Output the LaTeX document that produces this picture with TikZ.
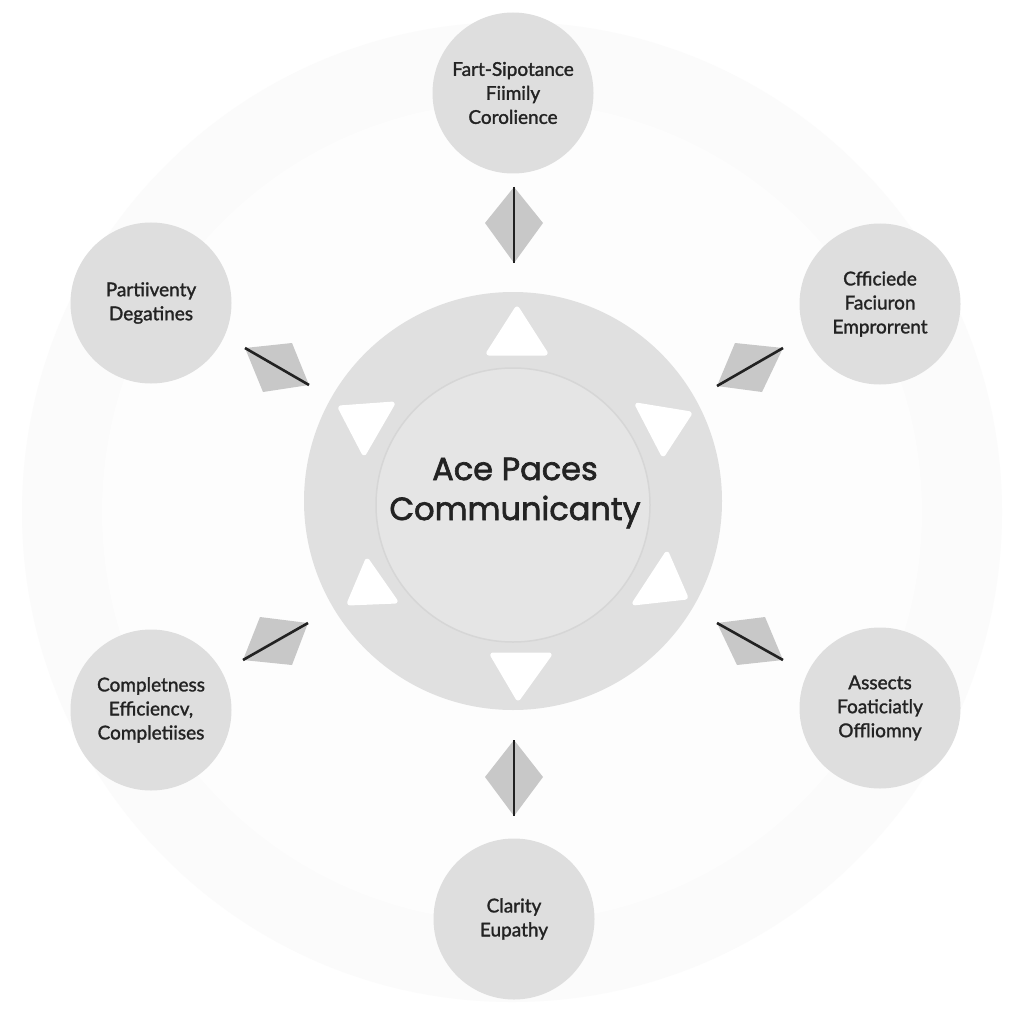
\documentclass[tikz,border=0pt]{standalone}
\usepackage{fontspec}
\setmainfont{Lato}
\newfontfamily\satfont{Lato}[FakeBold=1.5]
\newfontfamily\centerfont{Poppins}[FakeBold=2]
\definecolor{satfill}{RGB}{222,222,222}
\definecolor{outerfill}{RGB}{224,224,224}
\definecolor{innerfill}{RGB}{229,229,229}
\definecolor{innerring}{RGB}{214,214,214}
\definecolor{kitefill}{RGB}{200,200,200}
\definecolor{linecol}{RGB}{34,34,34}
\definecolor{textcol}{RGB}{35,35,35}
\begin{document}
\begin{tikzpicture}[x=1pt,y=-1pt,
  sat/.style={circle, fill=satfill, minimum size=161pt, inner sep=0pt,
    align=center, font=\satfont\fontsize{19}{24}\selectfont, text=textcol},
  kite/.style={fill=kitefill},
  kiteline/.style={draw=linecol, line width=2.6pt},
  notch/.style={fill=white, draw=white, line width=3pt, line join=round, rounded corners=2pt}]
\useasboundingbox (0,0) rectangle (1024,1024);
\fill[white] (0,0) rectangle (1024,1024);
% faint background rings
\fill[black!1.5] (512,512) circle (490pt);
\fill[black!0.6] (512,512) circle (410pt);

% central disc
\node[circle, fill=outerfill, minimum size=418pt, inner sep=0pt] (c) at (513,501) {};
\node[circle, fill=innerfill, draw=innerring, line width=1.5pt, minimum size=274pt, inner sep=0pt] (ci) at (513,505) {};
\node[align=center, text=textcol, font=\centerfont\fontsize{32}{40}\selectfont] (ct) at (515,493) {Ace Paces\\Communicanty};

% white notches
\filldraw[notch] (517,307) -- (547,354) -- (487,354) -- cycle;
\filldraw[notch] (339,407) -- (394,403) -- (364,455) -- cycle;
\filldraw[notch] (636,404) -- (691,413) -- (663,456) -- cycle;
\filldraw[notch] (367,559) -- (397,602) -- (348,604) -- cycle;
\filldraw[notch] (667,552) -- (687,598) -- (633,604) -- cycle;
\filldraw[notch] (491,654) -- (551,654) -- (518,700) -- cycle;

% satellites
\node[sat] (top) at (513,93) {Fart-Sipotance\\Fiimily\\Corolience};
\node[sat] (ul) at (151,303) {Partiiventy\\Degatines};
\node[sat] (ur) at (880,304) {Cfficiede\\Faciuron\\Emprorrent};
\node[sat] (ll) at (151,710) {Completness\\Efficiencv,\\Completiises};
\node[sat] (lr) at (880,708) {Assects\\Foaticiatly\\Offliomny};
\node[sat] (bot) at (514,919) {Clarity\\Eupathy};

% kites (connector marks)
\fill[kite] (514,187) -- (543,223) -- (514,263) -- (485,223) -- cycle;
\draw[kiteline] (514,187) -- (514,263);
\fill[kite] (514,740) -- (543,777) -- (514,816) -- (485,777) -- cycle;
\draw[kiteline] (514,740) -- (514,816);
\fill[kite] (245,348) -- (292,343) -- (309,385) -- (263,392) -- cycle;
\draw[kiteline] (245,348) -- (309,385);
\fill[kite] (735,343) -- (783,348) -- (762,392) -- (717,386) -- cycle;
\draw[kiteline] (717,386) -- (783,348);
\fill[kite] (260,617) -- (308,623) -- (292,665) -- (243,660) -- cycle;
\draw[kiteline] (243,660) -- (308,623);
\fill[kite] (717,623) -- (765,617) -- (783,660) -- (737,665) -- cycle;
\draw[kiteline] (717,623) -- (783,660);
\end{tikzpicture}
\end{document}
